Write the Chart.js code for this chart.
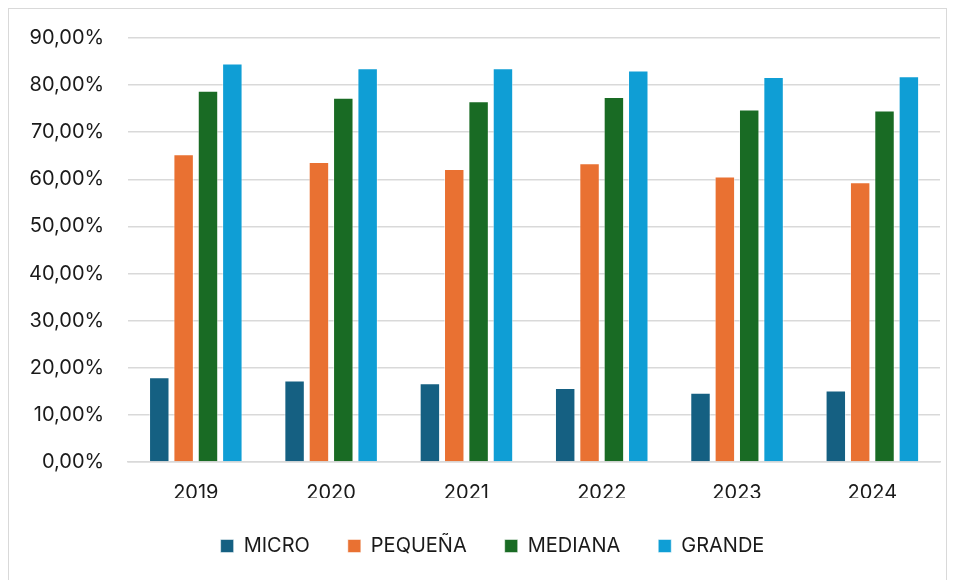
<!DOCTYPE html>
<html>
<head>
<meta charset="utf-8">
<script src="https://cdn.jsdelivr.net/npm/chart.js@4.4.1/dist/chart.umd.min.js"></script>
<style>
  html, body { margin: 0; padding: 0; background: #fff; }
  #frame {
    position: absolute; left: 8px; top: 8px; width: 939px; height: 580px;
    border: 1px solid #d9d9d9; box-sizing: border-box;
  }
  #wrap { position: absolute; left: 0; top: 2px; width: 956px; height: 578px; }
</style>
</head>
<body>
<div id="frame"></div>
<div id="wrap"><canvas id="chart"></canvas></div>
<script>
// years on the x axis
const years = ["2019", "2020", "2021", "2022", "2023", "2024"];

// series values (%)
const micro   = [18.0, 17.3, 16.7, 15.7, 14.7, 15.2];
const pequena = [65.3, 63.7, 62.2, 63.4, 60.6, 59.4];
const mediana = [78.8, 77.3, 76.6, 77.5, 74.8, 74.6];
const grande  = [84.6, 83.6, 83.6, 83.1, 81.7, 81.9];

const seriesNames = ["MICRO", "PEQUEÑA", "MEDIANA", "GRANDE"];
const seriesColors = ["#156082", "#E97132", "#196B24", "#0F9ED5"];

const font = "Inter, 'Open Sans', 'Liberation Sans', sans-serif";

function makeSet(i, values) {
    return {
        label: seriesNames[i],
        data: values,
        backgroundColor: seriesColors[i],
        borderColor: "rgba(255,255,255,0.5)",
        borderWidth: 1,
        categoryPercentage: 0.72,
        barPercentage: 0.84
    };
}

// nudge the legend a little to the right, like in the original
const legendShift = {
    id: "legendShift",
    afterLayout(chart) {
        chart.legend.left += 20;
        chart.legend.right += 20;
    }
};

new Chart(document.getElementById("chart"), {
    type: "bar",
    data: {
        labels: years,
        datasets: [
            makeSet(0, micro),
            makeSet(1, pequena),
            makeSet(2, mediana),
            makeSet(3, grande)
        ]
    },
    plugins: [legendShift],
    options: {
        responsive: true,
        maintainAspectRatio: false,
        animation: false,
        layout: { padding: { left: 5, right: 16, top: 17, bottom: 14 } },
        plugins: {
            tooltip: { enabled: false },
            legend: {
                position: "bottom",
                labels: {
                    boxWidth: 13,
                    boxHeight: 13,
                    padding: 38,
                    color: "#1a1a1a",
                    font: { family: font, size: 20 }
                }
            }
        },
        scales: {
            x: {
                grid: { display: false, drawTicks: false },
                border: { color: "#d9d9d9", width: 1.5 },
                ticks: { color: "#1a1a1a", padding: 19, font: { family: font, size: 20 } },
                afterFit(scale) { scale.height = 36; }
            },
            y: {
                min: 0,
                max: 90,
                grid: { color: "#d9d9d9", lineWidth: 1.5, drawTicks: false },
                border: { display: false },
                ticks: {
                    stepSize: 10,
                    padding: 24,
                    color: "#1a1a1a",
                    font: { family: font, size: 20 },
                    callback: v => v.toFixed(2).replace(".", ",") + "%"
                }
            }
        }
    }
});
</script>
</body>
</html>
